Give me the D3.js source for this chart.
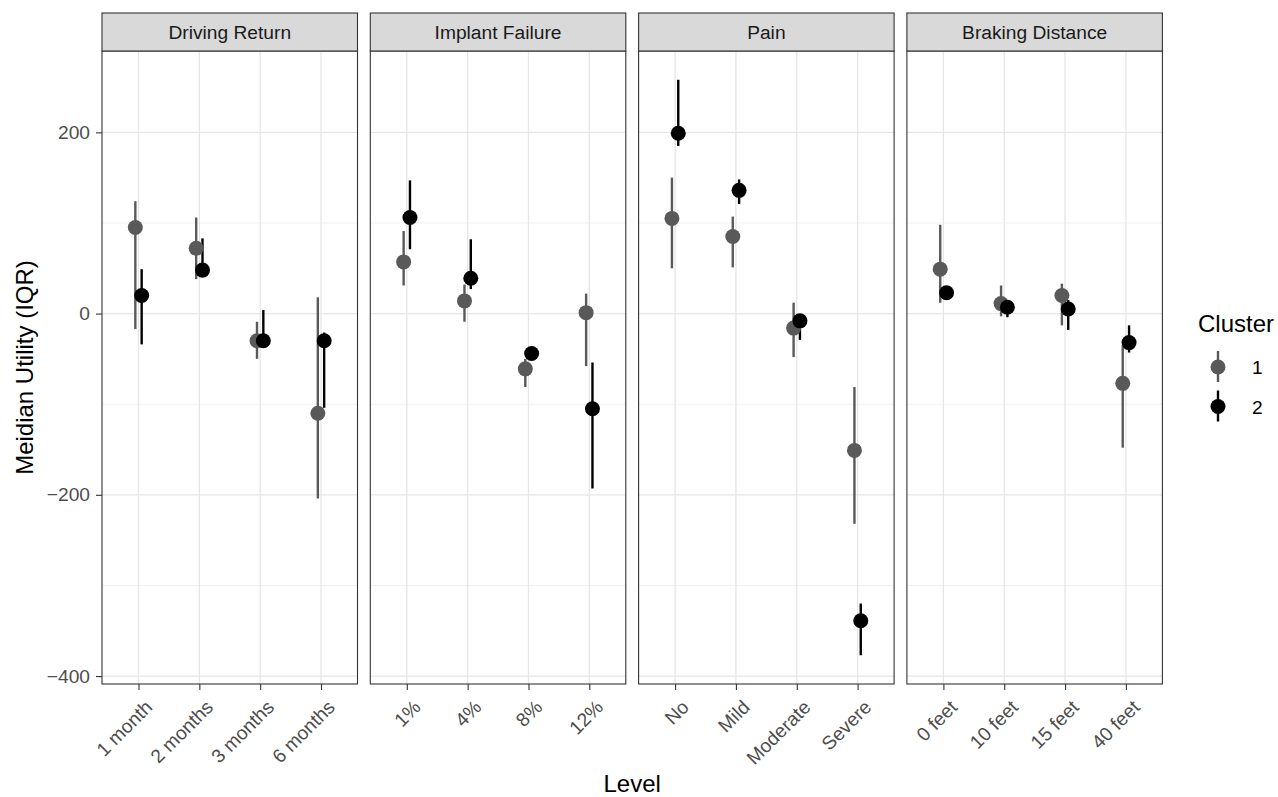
<!DOCTYPE html>
<html>
<head>
<meta charset="utf-8">
<script src="https://cdn.jsdelivr.net/npm/d3@7"></script>
<style>
  body { margin: 0; background: #fff; }
  text { font-family: "Liberation Sans", Arial, sans-serif; }
</style>
</head>
<body>
<div id="vis"></div>
<script>
// facets and levels
var facets = ["Driving Return", "Implant Failure", "Pain", "Braking Distance"];
var levels = [
    ["1 month", "2 months", "3 months", "6 months"],
    ["1%", "4%", "8%", "12%"],
    ["No", "Mild", "Moderate", "Severe"],
    ["0 feet", "10 feet", "15 feet", "40 feet"]
];

// cluster 1 (median, lower and upper quartile), in facet order
var c1Median = [95, 72, -30, -110, 57, 14, -61, 1, 105, 85, -16, -151, 49, 11, 20, -77];
var c1Low = [-17, 38, -50, -204, 31, -9, -81, -58, 50, 51, -48, -232, 12, -3, -13, -148];
var c1High = [124, 106, -9, 18, 91, 32, -50, 22, 150, 107, 12, -81, 98, 31, 33, -35];

// cluster 2
var c2Median = [20, 48, -30, -30, 106, 39, -44, -105, 199, 136, -8, -339, 23, 7, 5, -32];
var c2Low = [-34, 40, -38, -104, 71, 27, -48, -193, 185, 121, -29, -377, 18, -4, -18, -43];
var c2High = [49, 83, 4, -21, 147, 82, -40, -54, 258, 148, -2, -320, 28, 10, 15, -13];

var yTicks = [200, 0, -200, -400];
var yMinor = [100, -100, -300];
var clusters = ["1", "2"];
var clusterColor = { "1": "#595959", "2": "#000000" };

var width = 1278, height = 797;
var plotTop = 51, plotBottom = 684, stripTop = 13;
var panelLeft = 102, panelW = 255.5, panelGap = 12.8;
var smallFont = 19.2, bigFont = 24;

var svg = d3.select("#vis")
    .append("svg")
    .attr("width", width)
    .attr("height", height);

// rows built from the arrays
var rows = [];
facets.forEach(function (f, fi) {
    levels[fi].forEach(function (lv, li) {
        var i = fi * 4 + li;
        rows.push({ facet: fi, level: lv, cluster: "1", med: c1Median[i], lo: c1Low[i], hi: c1High[i] });
        rows.push({ facet: fi, level: lv, cluster: "2", med: c2Median[i], lo: c2Low[i], hi: c2High[i] });
    });
});

var yMin = d3.min(rows, d => d.lo), yMax = d3.max(rows, d => d.hi);
var pad = (yMax - yMin) * 0.05;
var y = d3.scaleLinear().domain([yMin - pad, yMax + pad]).range([plotBottom, plotTop]);

facets.forEach(function (f, fi) {
    var x0 = panelLeft + fi * (panelW + panelGap);
    var g = svg.append("g").attr("transform", "translate(" + x0 + ",0)");
    var x = d3.scalePoint().domain(levels[fi]).range([0, panelW]).padding(0.6);
    var dodge = x.step() * 0.052;

    // minor grid
    g.selectAll(".minor").data(yMinor).enter().append("line")
        .attr("x1", 0).attr("x2", panelW)
        .attr("y1", d => y(d)).attr("y2", d => y(d))
        .attr("stroke", "#f0f0f0").attr("stroke-width", 1);
    // major grid
    g.selectAll(".major").data(yTicks).enter().append("line")
        .attr("x1", 0).attr("x2", panelW)
        .attr("y1", d => y(d)).attr("y2", d => y(d))
        .attr("stroke", "#e6e6e6").attr("stroke-width", 1.3);
    g.selectAll(".vgrid").data(levels[fi]).enter().append("line")
        .attr("x1", d => x(d)).attr("x2", d => x(d))
        .attr("y1", plotTop).attr("y2", plotBottom)
        .attr("stroke", "#e6e6e6").attr("stroke-width", 1.3);

    var data = rows.filter(d => d.facet === fi);
    var px = d => x(d.level) + (d.cluster === "1" ? -dodge : dodge);

    g.selectAll(".bar").data(data).enter().append("line")
        .attr("x1", px).attr("x2", px)
        .attr("y1", d => y(d.lo)).attr("y2", d => y(d.hi))
        .attr("stroke", d => clusterColor[d.cluster])
        .attr("stroke-width", 2.4);
    g.selectAll(".pt").data(data).enter().append("circle")
        .attr("cx", px).attr("cy", d => y(d.med))
        .attr("r", 7.5)
        .attr("fill", d => clusterColor[d.cluster]);

    // panel border
    g.append("rect")
        .attr("x", 0).attr("y", plotTop)
        .attr("width", panelW).attr("height", plotBottom - plotTop)
        .attr("fill", "none").attr("stroke", "#333").attr("stroke-width", 1.1);

    // strip
    g.append("rect")
        .attr("x", 0).attr("y", stripTop)
        .attr("width", panelW).attr("height", plotTop - stripTop)
        .attr("fill", "#d9d9d9").attr("stroke", "#333").attr("stroke-width", 1.1);
    g.append("text")
        .attr("x", panelW / 2).attr("y", (stripTop + plotTop) / 2 + 6.8)
        .attr("text-anchor", "middle")
        .attr("font-size", smallFont).attr("fill", "#1a1a1a")
        .text(f);

    // x axis
    var xAxis = g.append("g")
        .attr("transform", "translate(0," + plotBottom + ")")
        .call(d3.axisBottom(x).tickSize(6));
    xAxis.select(".domain").remove();
    xAxis.selectAll(".tick line").attr("stroke", "#333").attr("stroke-width", 1.1);
    xAxis.selectAll(".tick text")
        .attr("font-size", smallFont).attr("fill", "#4d4d4d")
        .attr("text-anchor", "end")
        .attr("dy", "0.7em")
        .attr("y", 0).attr("x", 0)
        .attr("transform", "translate(5,15) rotate(-45)");
});

// y axis
var yAxis = svg.append("g")
    .attr("transform", "translate(" + panelLeft + ",0)")
    .call(d3.axisLeft(y).tickValues(yTicks).tickSize(6).tickPadding(6)
        .tickFormat(d => d < 0 ? "\u2212" + Math.abs(d) : d));
yAxis.select(".domain").remove();
yAxis.selectAll(".tick line").attr("stroke", "#333").attr("stroke-width", 1.1);
yAxis.selectAll(".tick text").attr("font-size", smallFont).attr("fill", "#4d4d4d");

// axis titles
svg.append("text")
    .attr("transform", "translate(33," + (plotTop + plotBottom) / 2 + ") rotate(-90)")
    .attr("text-anchor", "middle")
    .attr("font-size", bigFont).attr("fill", "#000")
    .text("Meidian Utility (IQR)");
var plotRight = panelLeft + 4 * panelW + 3 * panelGap;
svg.append("text")
    .attr("x", (panelLeft + plotRight) / 2).attr("y", 792)
    .attr("text-anchor", "middle")
    .attr("font-size", bigFont).attr("fill", "#000")
    .text("Level");

// legend
var legend = svg.append("g").attr("transform", "translate(1198,0)");
legend.append("text")
    .attr("x", 0).attr("y", 332)
    .attr("font-size", bigFont).attr("fill", "#000")
    .text("Cluster");
var keys = legend.selectAll(".key").data(clusters).enter().append("g")
    .attr("transform", (d, i) => "translate(20," + (367 + i * 39.5) + ")");
keys.append("line")
    .attr("x1", 0).attr("x2", 0).attr("y1", -16).attr("y2", 15)
    .attr("stroke", d => clusterColor[d]).attr("stroke-width", 2.4);
keys.append("circle").attr("r", 7.5).attr("fill", d => clusterColor[d]);
keys.append("text")
    .attr("x", 34).attr("y", 7)
    .attr("font-size", smallFont).attr("fill", "#000")
    .text(d => d);
</script>
</body>
</html>
